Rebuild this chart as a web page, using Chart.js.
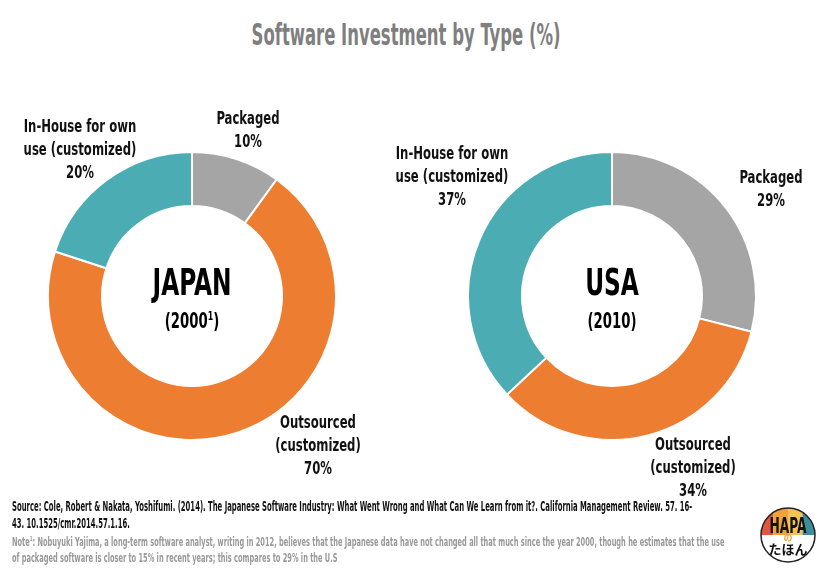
<!DOCTYPE html>
<html>
<head>
<meta charset="utf-8">
<script src="https://cdn.jsdelivr.net/npm/chart.js@4"></script>
<style>
  html, body { margin: 0; padding: 0; background: #fff; }
  body { width: 828px; height: 569px; position: relative; overflow: hidden;
         font-family: 'DejaVu Sans Condensed', 'Liberation Sans Narrow', sans-serif; font-weight: bold; }
  .title { position: absolute; left: -8px; width: 828px; top: 17px; text-align: center;
           font-size: 30px; color: #7f7f7f; transform: scaleX(0.61); }
  .pie { position: absolute; top: 146px; width: 300px; height: 300px; }
  .lbl { position: absolute; text-align: center; font-size: 18px; line-height: 23px; color: #111;
         transform: translateX(-50%) scaleX(0.72); white-space: nowrap; }
  .center { position: absolute; text-align: center; transform: translateX(-50%) scaleX(0.7); color: #000; white-space: nowrap; }
  .center .big { font-size: 37px; line-height: 40px; }
  .center .small { font-size: 21px; line-height: 26px; margin-top: 5px; }
  .src { position: absolute; left: 12px; top: 498px; font-size: 13.5px; line-height: 17px; color: #111;
         white-space: nowrap; transform: scaleX(0.565); transform-origin: left top; }
  .note { position: absolute; left: 12px; top: 534px; font-size: 11.5px; line-height: 16px; color: #999;
          white-space: nowrap; transform: scaleX(0.64); transform-origin: left top; }
  sup { font-size: 60%; line-height: 0; }
  .logo { position: absolute; left: 759px; top: 506px; width: 58px; height: 58px; }
</style>
</head>
<body>
<div class="title">Software Investment by Type (%)</div>

<div class="pie" style="left:42px"><canvas id="japanChart" width="300" height="300"></canvas></div>
<div class="pie" style="left:462px"><canvas id="usaChart" width="300" height="300"></canvas></div>

<div class="center" style="left:192px; top:263px"><div class="big">JAPAN</div><div class="small">(2000<sup>1</sup>)</div></div>
<div class="center" style="left:612px; top:263px"><div class="big">USA</div><div class="small">(2010)</div></div>

<div id="labels"></div>

<div class="src">Source: Cole, Robert &amp; Nakata, Yoshifumi. (2014). The Japanese Software Industry: What Went Wrong and What Can We Learn from it?. California Management Review. 57. 16-<br>43. 10.1525/cmr.2014.57.1.16.</div>
<div class="note">Note<sup>1</sup>: Nobuyuki Yajima, a long-term software analyst, writing in 2012, believes that the Japanese data have not changed all that much since the year 2000, though he estimates that the use<br>of packaged software is closer to 15% in recent years; this compares to 29% in the U.S</div>

<canvas id="logo" class="logo" width="58" height="58"></canvas>

<script>
// data
const categories = ['Packaged', 'Outsourced (customized)', 'In-House for own use (customized)'];
const labelLines = [['Packaged'], ['Outsourced', '(customized)'], ['In-House for own', 'use (customized)']];
const japanValues = [10, 70, 20];
const usaValues = [29, 34, 37];
const sliceColors = ['#a5a5a5', '#ed7d31', '#4badb3'];

// label anchors (center x, top y) for each slice
const japanLabelPos = [[248, 106], [318, 410], [80, 114]];
const usaLabelPos = [[771, 165], [693, 432], [452, 141]];

function makeDoughnut(id, values) {
    const ctx = document.getElementById(id);
    new Chart(ctx, {
        type: 'doughnut',
        data: {
            labels: categories,
            datasets: [{
                data: values,
                backgroundColor: sliceColors,
                borderColor: '#ffffff',
                borderWidth: 2
            }]
        },
        options: {
            responsive: false,
            animation: false,
            cutout: '62.5%',
            layout: { padding: 5 },
            plugins: {
                legend: { display: false },
                tooltip: { enabled: false }
            }
        }
    });
}

function addLabels(values, positions) {
    const box = document.getElementById('labels');
    values.forEach((v, i) => {
        const d = document.createElement('div');
        d.className = 'lbl';
        d.style.left = positions[i][0] + 'px';
        d.style.top = positions[i][1] + 'px';
        d.innerHTML = labelLines[i].concat([v + '%']).join('<br>');
        box.appendChild(d);
    });
}

makeDoughnut('japanChart', japanValues);
makeDoughnut('usaChart', usaValues);
addLabels(japanValues, japanLabelPos);
addLabels(usaValues, usaLabelPos);

// little logo
(function () {
    const c = document.getElementById('logo').getContext('2d');
    c.save();
    c.beginPath();
    c.arc(29, 29, 27, 0, Math.PI * 2);
    c.clip();
    const stripes = ['#e2553f', '#f0a23a', '#f3c35a', '#3c8f9a'];
    stripes.forEach((col, i) => {
        c.fillStyle = col;
        c.fillRect(i * 14.5, 0, 14.5, 29);
    });
    c.restore();
    c.beginPath();
    c.arc(29, 29, 27, 0, Math.PI * 2);
    c.strokeStyle = '#222';
    c.lineWidth = 1.5;
    c.stroke();
    c.fillStyle = '#111';
    c.save();
    c.translate(29, 27);
    c.scale(0.62, 1);
    c.font = 'bold 22px "DejaVu Sans Condensed", sans-serif';
    c.textAlign = 'center';
    c.fillText('HAPA', 0, 0);
    c.restore();
    c.textAlign = 'center';
    c.fillStyle = '#f0a23a';
    c.font = 'bold 9px "Noto Sans CJK JP", sans-serif';
    c.fillText('の', 29, 35);
    c.fillStyle = '#111';
    c.font = 'bold 13px "Noto Sans CJK JP", sans-serif';
    c.fillText('たほん', 29, 48);
})();
</script>
</body>
</html>
